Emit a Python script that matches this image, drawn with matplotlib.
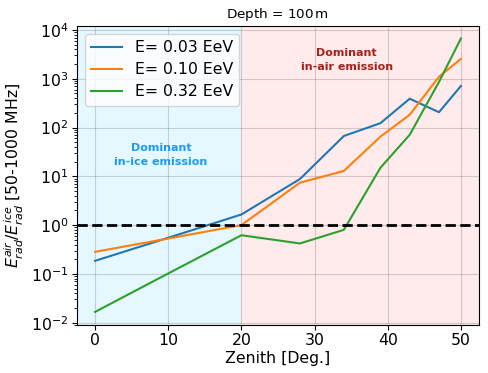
import matplotlib
matplotlib.use("Agg")
import matplotlib.pyplot as plt
import numpy as np

# zenith angles [deg]
zenith = [0, 10, 20, 28, 34, 39, 43, 47, 50]

# E_air / E_ice ratio per energy
ratio_003 = [0.185, 0.55, 1.65, 8.8, 67, 123, 390, 206, 710]
ratio_010 = [0.283, 0.53, 1.0, 7.4, 12.9, 65, 183, 1100, 2550]
ratio_032 = [0.0166, 0.102, 0.62, 0.42, 0.80, 15, 71, 860, 6700]

labels = ["E= 0.03 EeV", "E= 0.10 EeV", "E= 0.32 EeV"]

fig = plt.figure(figsize=(4.89, 3.73), dpi=100)
ax = fig.add_axes([0.157, 0.129, 0.823, 0.801])

ax.axvspan(-2.5, 20, color="deepskyblue", alpha=0.1, lw=0)
ax.axvspan(20, 52.5, color="red", alpha=0.08, lw=0)

for r, lab in zip([ratio_003, ratio_010, ratio_032], labels):
    ax.plot(zenith, r, label=lab, lw=1.5)

ax.axhline(1, color="black", ls="--", lw=2)

ax.set_yscale("log")
ax.set_xlim(-2.5, 52.5)
ax.set_ylim(9e-3, 1.2e4)
ax.grid(True, color="grey", alpha=0.35)

ax.text(9, 27, "Dominant\nin-ice emission", color="#1e9bf0", fontweight="bold",
        ha="center", va="center", fontsize=8, linespacing=1.5)
ax.text(34.4, 2450, "Dominant\nin-air emission", color="#a8201a", fontweight="bold",
        ha="center", va="center", fontsize=8, linespacing=1.5)

ax.set_title("Depth = 100$\\,$m", fontsize=9.7)
ax.set_xlabel("Zenith [Deg.]", fontsize=11.3, labelpad=2)
ax.set_ylabel(r"$E^{air}_{rad}/E^{ice}_{rad}$ [50-1000 MHz]", fontsize=11.3, labelpad=4)
ax.tick_params(labelsize=11.3, pad=2.5)
ax.legend(loc="upper left", fontsize=11.3, labelspacing=0.45)

fig.savefig("out.png", dpi=100)
